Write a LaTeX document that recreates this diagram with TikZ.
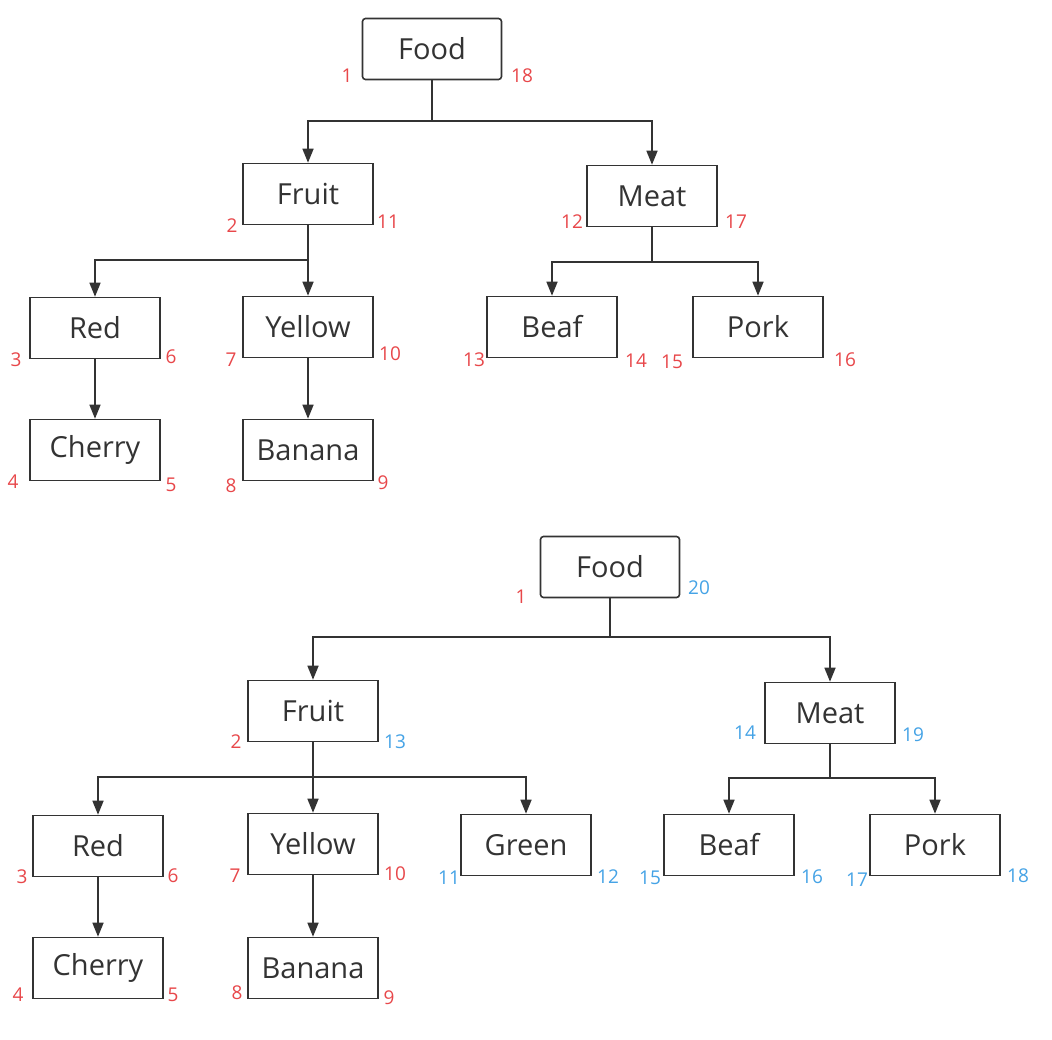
\documentclass[tikz,border=0pt]{standalone}
\usepackage{fontspec}
\setmainfont{Open Sans}
\usetikzlibrary{arrows.meta}
\definecolor{boxedge}{HTML}{333333}
\definecolor{numred}{HTML}{E8474A}
\definecolor{numblue}{HTML}{45A3E6}

\begin{document}
\begin{tikzpicture}[x=1pt, y=-1pt,
  item/.style={rectangle, draw=boxedge, line width=1.6pt, minimum width=130pt,
               minimum height=61pt, inner sep=0pt, text=boxedge,
               font=\fontsize{29}{31}\selectfont},
  root/.style={item, rounded corners=3pt, minimum width=139pt},
  link/.style={draw=boxedge, line width=1.6pt},
  arr/.style={link, -{Triangle[length=14pt, width=11pt]}},
  rednum/.style={text=numred, inner sep=0pt, font=\fontsize{19}{20}\selectfont},
  bluenum/.style={text=numblue, inner sep=0pt, font=\fontsize{19}{20}\selectfont},
]
\path[fill=white] (0,0) rectangle (1052,1040);
% ---- first tree: food -> fruit / meat
\node[root] (food1) at (432,49) {Food};
\node[item] (fruit1) at (308,194) {Fruit};
\node[item] (meat1) at (652,196) {Meat};
\node[item] (red1) at (95,328) {Red};
\node[item] (yellow1) at (308,327) {Yellow};
\node[item] (cherry1) at (95,450) {Cherry};
\node[item] (banana1) at (308,450) {Banana};
\node[item] (beaf1) at (552,327) {Beaf};
\node[item] (pork1) at (758,327) {Pork};
\coordinate (j1) at (432,121);
\coordinate (j2) at (308,260);
\coordinate (j3) at (652,262);
\draw[link] (food1.south) -- (j1);
\draw[arr] (j1) -| (fruit1.north);
\draw[arr] (j1) -| (meat1.north);
\draw[link] (fruit1.south) -- (j2);
\draw[arr] (j2) -| (red1.north);
\draw[arr] (j2) -- (yellow1.north);
\draw[arr] (red1.south) -- (cherry1.north);
\draw[arr] (yellow1.south) -- (banana1.north);
\draw[link] (meat1.south) -- (j3);
\draw[arr] (j3) -| (beaf1.north);
\draw[arr] (j3) -| (pork1.north);
% visit order numbers (enter / leave)
\node[rednum] (a1) at (347,76) {1};
\node[rednum] (a18) at (522,76) {18};
\node[rednum] (a2) at (232,226) {2};
\node[rednum] (a11) at (388,222) {11};
\node[rednum] (a12) at (572,222) {12};
\node[rednum] (a17) at (736,222) {17};
\node[rednum] (a3) at (16,360) {3};
\node[rednum] (a6) at (171,357) {6};
\node[rednum] (a7) at (231,360) {7};
\node[rednum] (a10) at (390,354) {10};
\node[rednum] (a4) at (13,482) {4};
\node[rednum] (a5) at (171,485) {5};
\node[rednum] (a8) at (231,486) {8};
\node[rednum] (a9) at (383,483) {9};
\node[rednum] (a13) at (474,360) {13};
\node[rednum] (a14) at (636,361) {14};
\node[rednum] (a15) at (672,362) {15};
\node[rednum] (a16) at (845,360) {16};
% ---- second tree: green added under fruit
\node[root] (food2) at (610,567) {Food};
\node[item] (fruit2) at (313,711) {Fruit};
\node[item] (meat2) at (830,713) {Meat};
\node[item] (red2) at (98,846) {Red};
\node[item] (yellow2) at (313,844) {Yellow};
\node[item] (green2) at (526,845) {Green};
\node[item] (cherry2) at (98,968) {Cherry};
\node[item] (banana2) at (313,968) {Banana};
\node[item] (beaf2) at (729,845) {Beaf};
\node[item] (pork2) at (935,845) {Pork};
\coordinate (k1) at (610,637);
\coordinate (k2) at (313,777);
\coordinate (k3) at (830,778);
\draw[link] (food2.south) -- (k1);
\draw[arr] (k1) -| (fruit2.north);
\draw[arr] (k1) -| (meat2.north);
\draw[link] (fruit2.south) -- (k2);
\draw[arr] (k2) -| (red2.north);
\draw[arr] (k2) -- (yellow2.north);
\draw[arr] (k2) -| (green2.north);
\draw[arr] (red2.south) -- (cherry2.north);
\draw[arr] (yellow2.south) -- (banana2.north);
\draw[link] (meat2.south) -- (k3);
\draw[arr] (k3) -| (beaf2.north);
\draw[arr] (k3) -| (pork2.north);
% numbers: red kept, blue changed
\node[rednum] (b1) at (521,597) {1};
\node[bluenum] (b20) at (699,588) {20};
\node[rednum] (b2) at (236,742) {2};
\node[bluenum] (b13) at (395,742) {13};
\node[bluenum] (b14) at (745,733) {14};
\node[bluenum] (b19) at (913,735) {19};
\node[rednum] (b3) at (22,877) {3};
\node[rednum] (b6) at (173,876) {6};
\node[rednum] (b7) at (235,876) {7};
\node[rednum] (b10) at (395,874) {10};
\node[bluenum] (b11) at (449,878) {11};
\node[bluenum] (b12) at (608,877) {12};
\node[rednum] (b4) at (18,995) {4};
\node[rednum] (b5) at (173,995) {5};
\node[rednum] (b8) at (237,993) {8};
\node[rednum] (b9) at (389,998) {9};
\node[bluenum] (b15) at (650,878) {15};
\node[bluenum] (b16) at (812,877) {16};
\node[bluenum] (b17) at (857,880) {17};
\node[bluenum] (b18) at (1018,876) {18};
\end{tikzpicture}
\end{document}
